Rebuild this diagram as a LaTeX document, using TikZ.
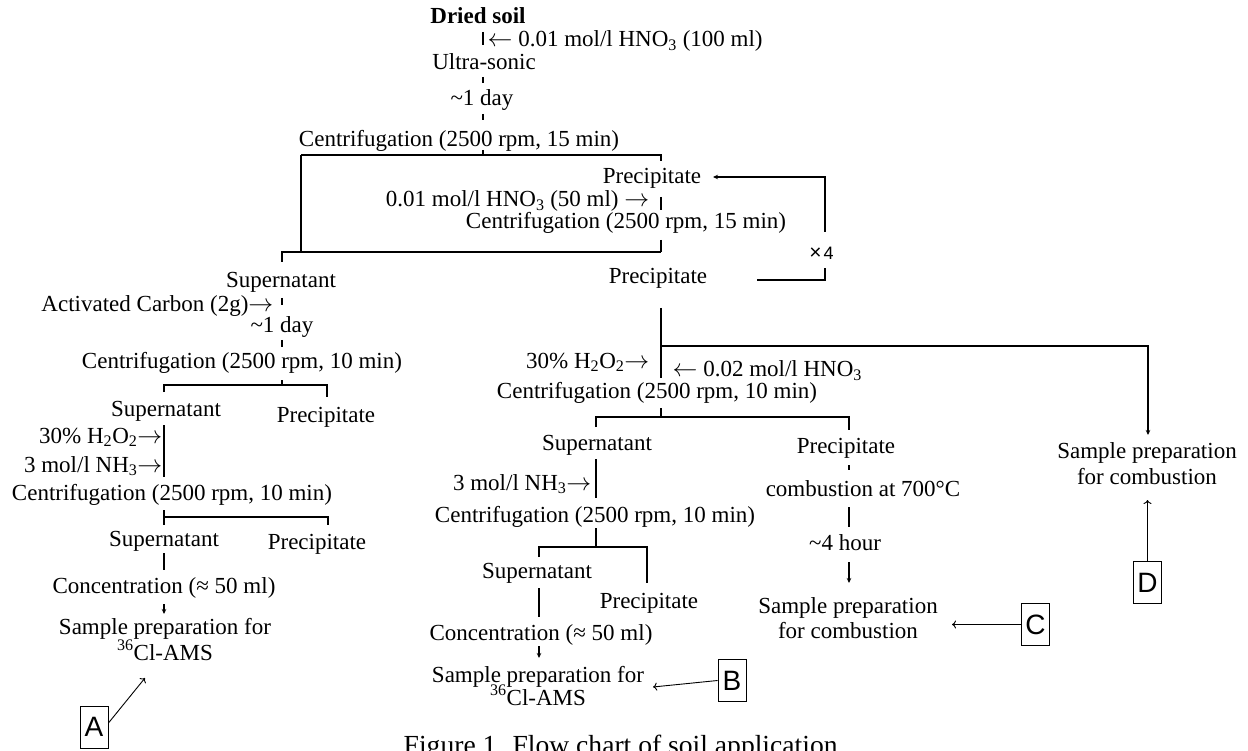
\documentclass[tikz,border=0pt]{standalone}
\usepackage{fontspec}
\setmainfont{Liberation Serif}
\newfontfamily\arialf{Liberation Sans}
\usetikzlibrary{arrows.meta}
\newcommand\mysub[1]{\textsubscript{#1}}
\begin{document}
\begin{tikzpicture}[x=1pt,y=-1pt,line width=1.4pt,
  txt/.style={inner sep=0pt,font=\fontsize{23}{27}\selectfont},
  tb/.style={txt,anchor=base},
  tbe/.style={txt,anchor=base east},
  tbw/.style={txt,anchor=base west},
  lbox/.style={draw,line width=0.9pt,inner sep=0pt,minimum width=28pt,minimum height=42pt,font=\arialf\fontsize{28}{30}\selectfont},
  sarr/.style={-{Stealth[length=5pt,width=4.5pt]}},
  oarr/.style={line width=0.9pt,-{To[length=4pt,width=8pt]}}]
\useasboundingbox (0,0) rectangle (1248,751);
% ---------- top ----------
\node[tb] (dried) at (478,24) {\textbf{Dried soil}};
\node[tbw] (hno3a) at (487,47) {$\leftarrow$ 0.01 mol/l HNO\mysub{3} (100 ml)};
\node[tb] (ultra) at (484,70) {Ultra-sonic};
\node[tb] (day1) at (482,106) {\textasciitilde1 day};
\node[tb] (cent1) at (459,147) {Centrifugation (2500 rpm, 15 min)};
\node[tb] (prec1) at (652,184) {Precipitate};
\node[tbe] (hno3b) at (650,207) {0.01 mol/l HNO\mysub{3} (50 ml) $\rightarrow$};
\node[tb] (cent2) at (626,229) {Centrifugation (2500 rpm, 15 min)};
\node[tb] (prec2) at (658,284) {Precipitate};
\node[inner sep=0pt,anchor=base,font=\arialf\fontsize{18}{20}\selectfont] (x4) at (821.5,260) {{\fontsize{21}{21}\selectfont ×}\hspace{2pt}4};
\draw (483,32) -- (483,45);
\draw (483,77) -- (483,83);
\draw (483,114) -- (483,120);
\draw (483,150) -- (483,155);
\draw (301,155) -- (661,155) -- (661,161);
\draw (301,155) -- (301,252);
\draw (661,197) -- (661,210);
\draw (661,240) -- (661,252);
\draw (282,262) -- (282,252) -- (661,252);
\draw[sarr] (825,232) -- (825,177) -- (713,177);
\draw (757,280) -- (825,280) -- (825,268);
% ---------- left branch ----------
\node[tb] (sup1) at (281,288) {Supernatant};
\node[tbe] (ac) at (274,312) {Activated Carbon (2g)$\rightarrow$};
\node[tb] (day2) at (282,333) {\textasciitilde1 day};
\node[tb] (cent3) at (242,369) {Centrifugation (2500 rpm, 10 min)};
\node[tb] (sup2) at (166,416) {Supernatant};
\node[tb] (prec3) at (326,422) {Precipitate};
\node[tbe] (h2o2a) at (163,443) {30\% H\mysub{2}O\mysub{2}$\rightarrow$};
\node[tbe] (nh3a) at (163,472) {3 mol/l NH\mysub{3}$\rightarrow$};
\node[tb] (cent4) at (172,500) {Centrifugation (2500 rpm, 10 min)};
\node[tb] (sup3) at (164,546) {Supernatant};
\node[tb] (prec4) at (317,549) {Precipitate};
\node[tb] (conc1) at (164,593) {Concentration (≈ 50 ml)};
\node[tb] (samp1a) at (165,634) {Sample preparation for};
\node[tb] (samp1b) at (165,660) {\textsuperscript{36}Cl-AMS};
\node[lbox] (A) at (94,727) {A};
\draw (282,298) -- (282,305);
\draw (282,340) -- (282,347);
\draw (282,380) -- (282,385);
\draw (164,392) -- (164,385) -- (327,385) -- (327,397);
\draw (164,425) -- (164,477);
\draw (164,510) -- (164,525);
\draw (164,517) -- (328,517) -- (328,525);
\draw (164,553) -- (164,570);
\draw[sarr] (164,604) -- (164,614);
\draw[oarr] ([yshift=4pt]A.east) -- (145,678);
% ---------- right branch ----------
\node[tbe] (h2o2b) at (650,368) {30\% H\mysub{2}O\mysub{2}$\rightarrow$};
\node[tbw] (hno3c) at (672,377) {$\leftarrow$ 0.02 mol/l HNO\mysub{3}};
\node[tb] (cent5) at (657,399) {Centrifugation (2500 rpm, 10 min)};
\node[tb] (sup4) at (597,450) {Supernatant};
\node[tb] (prec5) at (846,453) {Precipitate};
\node[tb] (comb) at (863,496) {combustion at 700°C};
\node[tb] (hour) at (845,550) {\textasciitilde4 hour};
\node[tb] (samp3a) at (848,613) {Sample preparation};
\node[tb] (samp3b) at (848,638) {for combustion};
\node[lbox] (C) at (1035.5,624.5) {C};
\node[tbe] (nh3b) at (592,490) {3 mol/l NH\mysub{3}$\rightarrow$};
\node[tb] (cent6) at (595,522) {Centrifugation (2500 rpm, 10 min)};
\node[tb] (sup5) at (537,578) {Supernatant};
\node[tb] (prec6) at (649,608) {Precipitate};
\node[tb] (conc2) at (541,640) {Concentration (≈ 50 ml)};
\node[tb] (samp2a) at (538,682) {Sample preparation for};
\node[tb] (samp2b) at (538,705) {\textsuperscript{36}Cl-AMS};
\node[lbox] (B) at (732,680.5) {B};
\node[tb] (samp4a) at (1147,458) {Sample preparation};
\node[tb] (samp4b) at (1147,484) {for combustion};
\node[lbox] (D) at (1147.5,582.5) {D};
\draw (661,308) -- (661,378);
\draw[sarr] (661,346) -- (1148,346) -- (1148,435);
\draw (661,408) -- (661,417);
\draw (596,427) -- (596,417) -- (849,417) -- (849,430);
\draw (849,465) -- (849,470);
\draw (849,507) -- (849,527);
\draw[sarr] (849,562) -- (849,583);
\draw (596,459) -- (596,498);
\draw (596,528) -- (596,547);
\draw (539,557) -- (539,547) -- (647,547) -- (647,583);
\draw (539,588) -- (539,617);
\draw[sarr] (539,646) -- (539,658);
\draw[oarr] (B.west) -- (653,687);
\draw[oarr] (C.west) -- (952,624.5);
\draw[oarr] (D.north) -- (1147.5,500);
% ---------- caption ----------
\node[inner sep=0pt,anchor=base west,font=\fontsize{27.6}{32}\selectfont] (cap) at (403,754) {Figure 1. Flow chart of soil application};
\end{tikzpicture}
\end{document}
